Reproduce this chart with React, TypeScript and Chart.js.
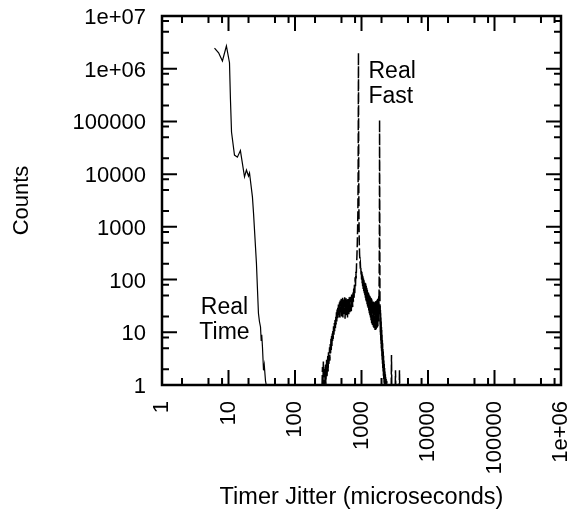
import React, { useEffect, useRef } from 'react';
import { Chart, registerables } from 'chart.js';

Chart.register(...registerables);

const FONT = '"Liberation Sans", Arial, Helvetica, sans-serif';

const xTickValues = [1, 10, 100, 1000, 10000, 100000, 1000000];
const xTickLabels = ['1', '10', '100', '1000', '10000', '100000', '1e+06'];
const yTickValues = [1, 10, 100, 1000, 10000, 100000, 1000000, 10000000];
const yTickLabels = ['1', '10', '100', '1000', '10000', '100000', '1e+06', '1e+07'];
const minorMultipliers = [2, 5, 8];

const xTitle = 'Timer Jitter (microseconds)';
const yTitle = 'Counts';

// Real Time histogram (solid line)
const realTimePoints: [number, number][] = [
  [6.16, 2470000], [7.1, 2000000], [8.1, 1400000], [9.3, 2700000], [10.35, 1300000],
  [10.7, 260000], [11.1, 63000], [12.3, 23000], [13.6, 21000], [15.1, 28000],
  [17.4, 8900], [18.6, 12000], [20.0, 9200], [20.7, 10500], [22.9, 3700],
  [23.8, 1800], [26.3, 206], [27.3, 63], [28.2, 23], [29.2, 16], [30.3, 12.6],
  [31.0, 7], [31.6, 9], [32.4, 5.3], [33.6, 1.9], [34.5, 2.4], [36, 1.2], [37, 1],
];

// Real Fast histogram (dashed line) - rising edge, first plateau, peak
const realFastRise: [number, number][] = [
  [255, 1], [259, 2.2], [263, 1], [267, 2.8], [271, 1.3], [275, 1], [279, 2], [283, 1.2],
  [287, 2.6], [291, 1], [295, 1.8], [299, 3], [303, 1.4], [307, 2.4], [311, 3.6], [315, 1.8],
  [319, 4.2], [323, 2.5], [327, 3.3], [331, 5.2], [335, 2.9], [339, 6], [343, 4], [347, 7.5],
  [351, 4.6], [355, 8.5], [359, 5.5], [363, 9.5], [367, 6.5], [371, 11], [375, 7.5], [380, 13],
  [385, 9], [390, 15], [395, 10.5], [400, 17], [405, 12], [410, 20], [415, 14], [420, 24],
  [425, 16], [430, 27], [435, 18], [440, 31], [445, 19], [450, 34], [456, 21], [461, 28],
  [467, 37], [472, 18], [478, 40], [484, 24], [490, 33], [496, 43], [502, 20], [508, 38],
  [514, 27], [520, 45], [526, 19], [533, 36], [539, 42], [546, 22], [552, 30], [559, 46],
  [566, 18], [573, 39], [580, 26], [587, 44], [594, 21], [601, 35], [608, 41], [616, 19],
  [623, 43], [631, 28], [638, 38], [646, 22], [654, 46], [662, 31], [670, 24], [678, 47],
  [686, 27], [694, 42], [703, 25], [711, 52], [720, 33], [729, 48], [737, 30], [746, 60],
  [755, 38], [764, 68], [774, 45], [783, 80], [793, 55], [802, 110], [812, 75], [822, 140],
  [832, 105], [842, 190], [852, 260], [862, 420], [872, 800], [882, 1800], [890, 9000],
  [896, 200000], [900, 2000000],
];

// Real Fast - second plateau and second peak
const realFastMiddle: [number, number][] = [
  [904, 150000], [910, 6000], [916, 1500], [922, 700], [929, 420], [936, 300], [944, 240],
  [952, 200], [960, 210], [968, 160], [976, 175], [985, 125], [994, 150], [1003, 100],
  [1012, 140], [1021, 85], [1031, 125], [1040, 75], [1050, 115], [1060, 66], [1070, 105],
  [1080, 60], [1091, 98], [1101, 55], [1112, 92], [1122, 50], [1133, 88], [1144, 45],
  [1155, 84], [1166, 40], [1178, 76], [1189, 37], [1201, 70], [1212, 34], [1224, 64],
  [1236, 31], [1248, 60], [1261, 29], [1273, 56], [1286, 26], [1298, 53], [1311, 23],
  [1324, 50], [1337, 21], [1350, 48], [1364, 19], [1377, 46], [1391, 17], [1405, 44],
  [1419, 15], [1433, 42], [1447, 14], [1462, 40], [1476, 13], [1491, 39], [1506, 12.5],
  [1521, 38], [1536, 12], [1551, 37], [1567, 11.5], [1582, 37], [1598, 11], [1614, 38],
  [1630, 11], [1646, 39], [1663, 11.5], [1679, 40], [1696, 12], [1713, 41], [1730, 12.5],
  [1747, 43], [1765, 13], [1782, 45], [1800, 16], [1815, 48], [1830, 30], [1842, 90],
  [1852, 300], [1862, 3000], [1870, 107000], [1878, 6000], [1886, 400],
];

// Real Fast - falling edge and sparse tail
const realFastFall: [number, number][] = [
  [1894, 50], [1902, 14], [1910, 32], [1918, 10], [1926, 27], [1934, 8.5], [1942, 23],
  [1951, 7], [1960, 19], [1969, 6], [1978, 16], [1987, 5], [1996, 13], [2006, 4.2],
  [2016, 11], [2026, 3.5], [2036, 9], [2046, 3], [2057, 7.5], [2068, 2.5], [2079, 6.2],
  [2090, 2.1], [2101, 5.2], [2112, 1.8], [2124, 4.3], [2136, 1.5], [2148, 3.6], [2160, 1.3],
  [2172, 3], [2185, 1.1], [2198, 2.5], [2211, 1], [2225, 2.1], [2239, 1], [2253, 1.8],
  [2268, 1], [2283, 1.6], [2298, 1], [2314, 1.4], [2330, 1], [2350, 1.3], [2370, 1],
  [2395, 1.2], [2420, 1], [2460, 1], [2800, 1], [2825, 3.7], [2850, 1], [3220, 1],
  [3245, 1.9], [3270, 1], [3700, 1], [3725, 1.9], [3750, 1],
];

const realFastPoints = [...realFastRise, ...realFastMiddle, ...realFastFall];

const textLabels = [
  { lines: ['Real', 'Time'], x: 8.7, y: 16.7, align: 'center' as CanvasTextAlign },
  { lines: ['Real', 'Fast'], x: 1274, y: 500000, align: 'left' as CanvasTextAlign },
];

const framePlugin = {
  id: 'frameTicks',
  afterDraw(chart: any) {
    const { ctx, chartArea } = chart;
    const { left, right, top, bottom } = chartArea;
    const xs = chart.scales.x;
    const ys = chart.scales.y;
    ctx.save();
    ctx.strokeStyle = '#000';
    ctx.lineCap = 'butt';
    ctx.lineWidth = 2;
    const majorLen = 15;
    const minorLen = 7;
    const drawX = (v: number, len: number) => {
      const p = xs.getPixelForValue(v);
      ctx.beginPath();
      ctx.moveTo(p, bottom);
      ctx.lineTo(p, bottom - len);
      ctx.moveTo(p, top);
      ctx.lineTo(p, top + len);
      ctx.stroke();
    };
    const drawY = (v: number, len: number) => {
      const p = ys.getPixelForValue(v);
      ctx.beginPath();
      ctx.moveTo(left, p);
      ctx.lineTo(left + len, p);
      ctx.moveTo(right, p);
      ctx.lineTo(right - len, p);
      ctx.stroke();
    };
    xTickValues.forEach((v) => {
      drawX(v, majorLen);
      minorMultipliers.forEach((m) => {
        if (v * m < xs.max) drawX(v * m, minorLen);
      });
    });
    yTickValues.forEach((v) => {
      drawY(v, majorLen);
      minorMultipliers.forEach((m) => {
        if (v * m < ys.max) drawY(v * m, minorLen);
      });
    });
    ctx.lineWidth = 2.5;
    ctx.strokeRect(left, top, right - left, bottom - top);

    ctx.fillStyle = '#000';
    ctx.font = `23px ${FONT}`;
    ctx.textBaseline = 'middle';
    const lh = 25;
    textLabels.forEach((t) => {
      const px = xs.getPixelForValue(t.x);
      const py = ys.getPixelForValue(t.y);
      ctx.textAlign = t.align;
      t.lines.forEach((line, i) => {
        ctx.fillText(line, px, py + (i - (t.lines.length - 1) / 2) * lh);
      });
    });
    ctx.restore();
  },
};

export default function App() {
  const canvasRef = useRef<HTMLCanvasElement | null>(null);

  useEffect(() => {
    const canvas = canvasRef.current;
    if (!canvas) return;
    const chart = new Chart(canvas, {
      type: 'line',
      data: {
        datasets: [
          {
            label: 'Real Time',
            data: realTimePoints.map(([x, y]) => ({ x, y })),
            borderColor: '#000',
            borderWidth: 1.2,
            pointRadius: 0,
            fill: false,
            tension: 0,
          },
          {
            label: 'Real Fast',
            data: realFastPoints.map(([x, y]) => ({ x, y })),
            borderColor: '#000',
            borderWidth: 1.5,
            borderDash: [10, 3],
            pointRadius: 0,
            fill: false,
            tension: 0,
          },
        ],
      },
      plugins: [framePlugin],
      options: {
        animation: false,
        responsive: false,
        devicePixelRatio: 1,
        layout: { padding: { top: 16, right: 12, left: 0, bottom: 0 } },
        plugins: {
          legend: { display: false },
          tooltip: { enabled: false },
        },
        scales: {
          x: {
            type: 'logarithmic',
            position: 'bottom',
            min: 1,
            max: 1000000,
            grid: { display: false, drawTicks: false },
            border: { display: false },
            ticks: {
              autoSkip: false,
              minRotation: 90,
              maxRotation: 90,
              padding: 16,
              color: '#000',
              font: { family: FONT, size: 22 },
              callback: (v: any) => {
                const i = xTickValues.indexOf(Number(v));
                return i >= 0 ? xTickLabels[i] : '';
              },
            },
            title: {
              display: true,
              text: xTitle,
              color: '#000',
              font: { family: FONT, size: 23.5 },
              padding: { top: 0, bottom: 0 },
            },
            afterBuildTicks: (s: any) => {
              s.ticks = xTickValues.map((value) => ({ value }));
            },
            afterFit: (s: any) => {
              s.height = 127;
              s.paddingLeft = 0;
              s.paddingRight = 0;
            },
          },
          y: {
            type: 'logarithmic',
            position: 'left',
            min: 1,
            max: 10000000,
            grid: { display: false, drawTicks: false },
            border: { display: false },
            ticks: {
              autoSkip: false,
              padding: 16,
              labelOffset: 2,
              color: '#000',
              font: { family: FONT, size: 22 },
              callback: (v: any) => {
                const i = yTickValues.indexOf(Number(v));
                return i >= 0 ? yTickLabels[i] : '';
              },
            },
            title: {
              display: true,
              text: yTitle,
              color: '#000',
              font: { family: FONT, size: 22 },
              padding: { top: 8.5, bottom: 0 },
            },
            afterBuildTicks: (s: any) => {
              s.ticks = yTickValues.map((value) => ({ value }));
            },
            afterFit: (s: any) => {
              s.width = 162;
              s.paddingTop = 0;
              s.paddingBottom = 0;
            },
          },
        },
      },
    });
    return () => chart.destroy();
  }, []);

  return (
    <div style={{ position: 'absolute', left: 0, top: 0, width: 573, height: 512, background: '#fff' }}>
      <canvas ref={canvasRef} width={573} height={512} style={{ display: 'block' }} />
    </div>
  );
}
